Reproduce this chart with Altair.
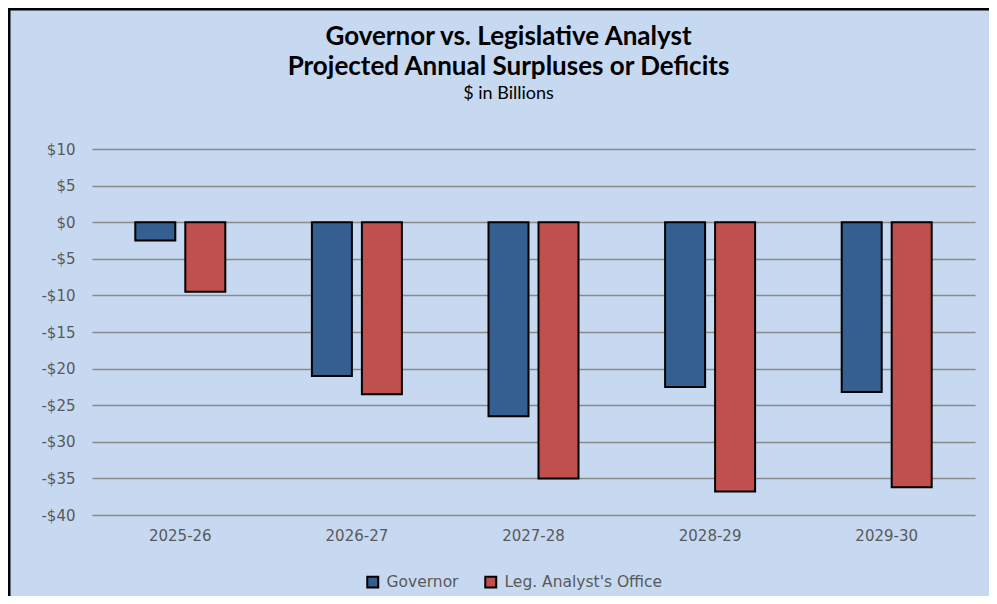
import altair as alt
import pandas as pd

years = ["2025-26", "2026-27", "2027-28", "2028-29", "2029-30"]
governor = [-2.5, -21.0, -26.5, -22.5, -23.2]
lao = [-9.5, -23.5, -35.0, -36.8, -36.2]
series = ["Governor", "Leg. Analyst's Office"]
colors = ["#355F91", "#C0504D"]
y_ticks = [10, 5, 0, -5, -10, -15, -20, -25, -30, -35, -40]
title_lines = ["Governor vs. Legislative Analyst", "Projected Annual Surpluses or Deficits"]
subtitle_text = "$ in Billions"

rows = []
for i, yr in enumerate(years):
    rows.append({"year": yr, "series": series[0], "value": governor[i]})
    rows.append({"year": yr, "series": series[1], "value": lao[i]})
df = pd.DataFrame(rows)

W, H = 883, 366
PL, PT, PR, PB = 84, 141, 14, 81

bars = alt.Chart(df).mark_bar(stroke="black", strokeWidth=2).encode(
    x=alt.X("year:N", sort=years,
            scale=alt.Scale(paddingInner=0, paddingOuter=0),
            axis=alt.Axis(title=None, labelAngle=0, ticks=False, domain=False,
                          labelPadding=13, labelFont="DejaVu Sans",
                          labelFontSize=15, labelColor="#595959", grid=False)),
    xOffset=alt.XOffset("series:N", sort=series,
                        scale=alt.Scale(paddingInner=0.2, paddingOuter=0.866)),
    y=alt.Y("value:Q",
            scale=alt.Scale(domain=[-40, 10], nice=False, zero=False),
            axis=alt.Axis(title=None, values=y_ticks, ticks=False, domain=False,
                          labelPadding=17, labelFont="DejaVu Sans",
                          labelFontSize=15, labelColor="#595959",
                          gridColor="#8A8A8A", gridWidth=1.6,
                          labelExpr="datum.value < 0 ? '-$' + abs(datum.value) : '$' + datum.value")),
    color=alt.Color("series:N", sort=series,
                    scale=alt.Scale(domain=series, range=colors),
                    legend=alt.Legend(title=None, orient="none", direction="horizontal",
                                      legendX=273, legendY=425,
                                      symbolType="square", symbolSize=120,
                                      symbolStrokeColor="black", symbolStrokeWidth=2,
                                      labelFont="DejaVu Sans", labelFontSize=15.5,
                                      labelColor="#595959", labelOffset=6,
                                      labelLimit=400, columnPadding=22)),
)

one = pd.DataFrame({"k": [0]})
left_border = alt.Chart(one).mark_rule(color="black", strokeWidth=3).encode(
    x=alt.value(-PL + 1), y=alt.value(-PT), y2=alt.value(H + PB)
)
top_border = alt.Chart(one).mark_rule(color="black", strokeWidth=3).encode(
    y=alt.value(-PT + 1), x=alt.value(-PL), x2=alt.value(W + PR)
)

TX = 416.5
t1 = alt.Chart(one).mark_text(font="Lato", fontSize=26, fontWeight="bold", color="black",
                              align="center", baseline="alphabetic",
                              text=title_lines[0]).encode(x=alt.value(TX), y=alt.value(-104))
t2 = alt.Chart(one).mark_text(font="Lato", fontSize=26, fontWeight="bold", color="black",
                              align="center", baseline="alphabetic",
                              text=title_lines[1]).encode(x=alt.value(TX), y=alt.value(-74))
t3 = alt.Chart(one).mark_text(font="Lato", fontSize=18, color="black",
                              align="center", baseline="alphabetic",
                              text=subtitle_text).encode(x=alt.value(TX), y=alt.value(-50))

chart = alt.layer(bars, left_border, top_border, t1, t2, t3).properties(
    width=W, height=H,
    autosize=alt.AutoSizeParams(type="none"),
    padding={"left": PL, "top": PT, "right": PR, "bottom": PB},
    background="#C6D9F1",
).configure_view(stroke=None)

chart.save("out.html", embed_options={"renderer": "svg", "actions": False})
